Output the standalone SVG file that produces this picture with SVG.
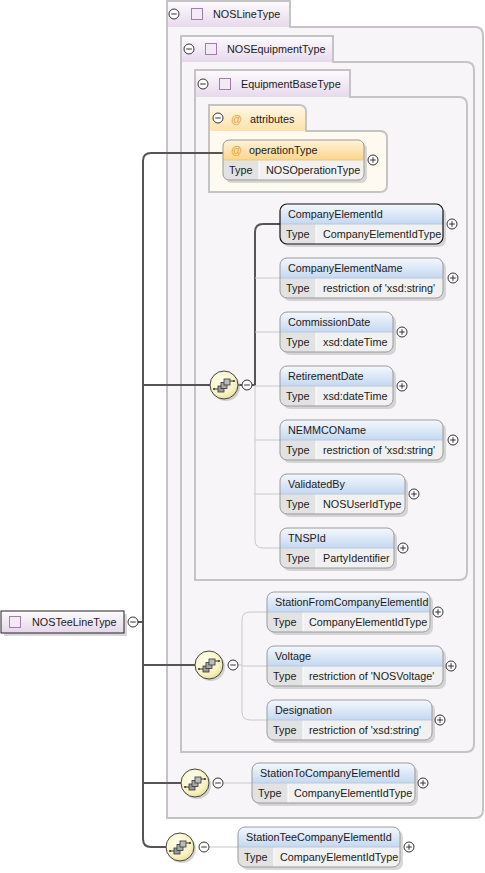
<svg xmlns="http://www.w3.org/2000/svg" xmlns:xlink="http://www.w3.org/1999/xlink" width="485" height="873" viewBox="0 0 485 873">
<style>
text{font-family:"Liberation Sans",Arial,sans-serif;font-size:10.8px;fill:#1a1a1a}
.cb{stroke:#c4c4c4;stroke-width:2;fill:#f8f5f9}
.ab{stroke:#c4c4c4;stroke-width:2;fill:#fffaf0}
.dark{stroke:#555;stroke-width:2;fill:none}
.light{stroke:#c8c8c8;stroke-width:1;fill:none}
.sh{fill:#b8b8b8;opacity:.55}
.out{fill:none;stroke:#9a9a9a;stroke-width:1}
.sel{fill:none;stroke:#111;stroke-width:1.2}
.tc{fill:#e2e2e2}
.vc{fill:#f1f1f1}
.hd{fill:url(#gHead)}
.sep{stroke:#fff;stroke-width:1}
.hsep{stroke:#b9c9dd;stroke-width:1}
.sq{fill:#f3eaf5;stroke:#a47ab4;stroke-width:1}
.at{fill:#e8a020}
</style>
<defs>
<linearGradient id="gTab" x1="0" y1="0" x2="0" y2="1"><stop offset="0" stop-color="#fcfafd"/><stop offset="1" stop-color="#e7d9ec"/></linearGradient>
<linearGradient id="gAttrTab" x1="0" y1="0" x2="0" y2="1"><stop offset="0" stop-color="#fff7e6"/><stop offset="1" stop-color="#fde2a8"/></linearGradient>
<linearGradient id="gHead" x1="0" y1="0" x2="0" y2="1"><stop offset="0" stop-color="#f5f8fd"/><stop offset="1" stop-color="#c4d8f1"/></linearGradient>
<linearGradient id="gOr" x1="0" y1="0" x2="0" y2="1"><stop offset="0" stop-color="#fff3da"/><stop offset="1" stop-color="#fbd68c"/></linearGradient>
<linearGradient id="gRoot" x1="0" y1="0" x2="0" y2="1"><stop offset="0" stop-color="#fdfbfd"/><stop offset="1" stop-color="#e5d6ea"/></linearGradient>
<radialGradient id="gSeq" cx="0.4" cy="0.35" r="0.7"><stop offset="0" stop-color="#fffff0"/><stop offset="0.7" stop-color="#f8f2c0"/><stop offset="1" stop-color="#e8dc98"/></radialGradient>
<g id="minus"><circle r="5" fill="#fff" stroke="#333" stroke-width="1"/><path d="M-2.8 0H2.8" stroke="#333" stroke-width="1"/></g>
<g id="plus"><circle r="5" fill="#fff" stroke="#333" stroke-width="1"/><path d="M-2.8 0H2.8M0 -2.8V2.8" stroke="#333" stroke-width="1"/></g>
<g id="seq">
<circle cx="2" cy="2" r="14" fill="#aaa" opacity=".5"/>
<circle r="14" fill="url(#gSeq)" stroke="#444" stroke-width="1"/>
<path d="M-10 4H-6M6 -4H10" stroke="#333" stroke-width="1"/>
<circle cx="-10" cy="4" r="1" fill="#333"/>
<circle cx="10" cy="-4" r="1" fill="#333"/>
<rect x="-6" y="1" width="6" height="6" fill="#999" stroke="#333" stroke-width=".8"/>
<rect x="-3" y="-2.5" width="6" height="6" fill="#aaa" stroke="#333" stroke-width=".8"/>
<rect x="0" y="-6" width="6" height="6" fill="#bbb" stroke="#333" stroke-width=".8"/>
</g>
</defs>

<!-- containers -->
<g id="NOSLineType">
<rect x="167" y="1" width="123" height="26" fill="url(#gTab)"/>
<path class="cb" d="M167 818V1H290V27H475Q483 27 483 35V810Q483 818 475 818Z"/>
<rect x="168" y="2" width="121" height="25" fill="url(#gTab)"/>
<use xlink:href="#minus" x="174" y="14"/>
<rect class="sq" x="191.5" y="8.5" width="11" height="11"/>
<text x="213" y="18">NOSLineType</text>
</g>
<g id="NOSEquipmentType">
<path class="cb" d="M181 752V36H333V62H466Q474 62 474 70V744Q474 752 466 752Z"/>
<rect x="182" y="37" width="150" height="25" fill="url(#gTab)"/>
<use xlink:href="#minus" x="189" y="49"/>
<rect class="sq" x="205.5" y="43.5" width="11" height="11"/>
<text x="227" y="53">NOSEquipmentType</text>
</g>
<g id="EquipmentBaseType">
<path class="cb" d="M195 580V70H350V97H459Q467 97 467 105V572Q467 580 459 580Z"/>
<rect x="196" y="71" width="153" height="26" fill="url(#gTab)"/>
<use xlink:href="#minus" x="203" y="84"/>
<rect class="sq" x="219.5" y="78.5" width="11" height="11"/>
<text x="241" y="88">EquipmentBaseType</text>
</g>
<g id="attributes">
<path class="ab" d="M209 192V105H299Q306 105 306 112V131H380Q387 131 387 138V185Q387 192 380 192Z"/>
<path d="M210 131V106H298Q305 106 305 113V131Z" fill="url(#gAttrTab)"/>
<use xlink:href="#minus" x="218" y="118"/>
<text class="at" x="231" y="123">@</text>
<text x="250" y="123">attributes</text>
</g>

<!-- connectors -->
<g id="connectors">
<path class="dark" d="M223 153H151Q143 153 143 161V839Q143 847 151 847H166"/>
<path class="dark" d="M143 385H210"/>
<path class="dark" d="M143 665H195"/>
<path class="dark" d="M143 783H181"/>
<path class="dark" d="M128 622H143"/>
<path class="dark" d="M238 385H242"/>
<path class="dark" d="M252 385H255V232Q255 224 263 224H280"/>
<path class="light" d="M255 385V540Q255 548 263 548H280M255 278H280M255 332H280M255 386H280M255 440H280M255 494H280"/>
<path class="light" d="M238 665H242V620Q242 612 250 612H267M242 665V712Q242 720 250 720H267M242 666H267"/>
<path class="light" d="M223 783H252"/>
<path class="light" d="M209 847H238"/>
</g>

<!-- root -->
<g id="NOSTeeLineType">
<rect x="4" y="614" width="123" height="22" class="sh"/>
<rect x="1" y="611" width="123" height="22" fill="url(#gRoot)" stroke="#222" stroke-width="1"/>
<rect class="sq" x="9.5" y="616.5" width="11" height="11"/>
<text x="32" y="626">NOSTeeLineType</text>
<use xlink:href="#minus" x="133" y="622"/>
</g>

<!-- sequences -->
<g id="seq1"><use xlink:href="#seq" x="224" y="385"/><use xlink:href="#minus" x="247" y="385"/></g>
<g id="seq2"><use xlink:href="#seq" x="209" y="665"/><use xlink:href="#minus" x="233" y="665"/></g>
<g id="seq3"><use xlink:href="#seq" x="195" y="783"/><use xlink:href="#minus" x="218" y="783"/></g>
<g id="seq4"><use xlink:href="#seq" x="180" y="847"/><use xlink:href="#minus" x="204" y="847"/></g>

<!-- attribute operationType -->
<g id="operationType">
<rect class="sh" x="226" y="143" width="141" height="40" rx="6"/>
<rect x="223" y="140" width="141" height="40" rx="6" fill="#f1f1f1"/>
<path d="M223 160V146Q223 140 229 140H358Q364 140 364 146V160Z" fill="url(#gOr)"/>
<path class="tc" d="M223 160H259V180H229Q223 180 223 174Z"/>
<path class="sep" d="M259 160.5V180"/>
<path d="M223 160H364" stroke="#e6c890" stroke-width="1"/>
<rect class="out" x="223" y="140" width="141" height="40" rx="6"/>
<text class="at" x="231" y="154">@</text>
<text x="249" y="154">operationType</text>
<text x="229" y="174">Type</text>
<text x="266" y="174">NOSOperationType</text>
<use xlink:href="#plus" x="373" y="160"/>
</g>

<!-- elements -->
<g id="CompanyElementId">
<rect class="sh" x="283" y="207" width="163" height="40" rx="7"/>
<rect class="vc" x="280" y="204" width="163" height="40" rx="7"/>
<path class="hd" d="M280 224V211Q280 204 287 204H436Q443 204 443 211V224Z"/>
<path class="tc" d="M280 224H316V244H287Q280 244 280 237Z"/>
<path class="sep" d="M316 224.5V244"/>
<path class="hsep" d="M280 224H443"/>
<rect class="sel" x="280" y="204" width="163" height="40" rx="7"/>
<text x="288" y="218">CompanyElementId</text>
<text x="286" y="238">Type</text>
<text x="323" y="238">CompanyElementIdType</text>
<use xlink:href="#plus" x="452" y="224"/>
</g>
<g id="CompanyElementName">
<rect class="sh" x="283" y="261" width="163" height="40" rx="7"/>
<rect class="vc" x="280" y="258" width="163" height="40" rx="7"/>
<path class="hd" d="M280 278V265Q280 258 287 258H436Q443 258 443 265V278Z"/>
<path class="tc" d="M280 278H316V298H287Q280 298 280 291Z"/>
<path class="sep" d="M316 278.5V298"/>
<path class="hsep" d="M280 278H443"/>
<rect class="out" x="280" y="258" width="163" height="40" rx="7"/>
<text x="288" y="272">CompanyElementName</text>
<text x="286" y="292">Type</text>
<text x="323" y="292">restriction of 'xsd:string'</text>
<use xlink:href="#plus" x="453" y="278"/>
</g>
<g id="CommissionDate">
<rect class="sh" x="283" y="315" width="113" height="40" rx="7"/>
<rect class="vc" x="280" y="312" width="113" height="40" rx="7"/>
<path class="hd" d="M280 332V319Q280 312 287 312H386Q393 312 393 319V332Z"/>
<path class="tc" d="M280 332H316V352H287Q280 352 280 345Z"/>
<path class="sep" d="M316 332.5V352"/>
<path class="hsep" d="M280 332H393"/>
<rect class="out" x="280" y="312" width="113" height="40" rx="7"/>
<text x="288" y="326">CommissionDate</text>
<text x="286" y="346">Type</text>
<text x="323" y="346">xsd:dateTime</text>
<use xlink:href="#plus" x="402" y="332"/>
</g>
<g id="RetirementDate">
<rect class="sh" x="283" y="369" width="113" height="40" rx="7"/>
<rect class="vc" x="280" y="366" width="113" height="40" rx="7"/>
<path class="hd" d="M280 386V373Q280 366 287 366H386Q393 366 393 373V386Z"/>
<path class="tc" d="M280 386H316V406H287Q280 406 280 399Z"/>
<path class="sep" d="M316 386.5V406"/>
<path class="hsep" d="M280 386H393"/>
<rect class="out" x="280" y="366" width="113" height="40" rx="7"/>
<text x="288" y="380">RetirementDate</text>
<text x="286" y="400">Type</text>
<text x="323" y="400">xsd:dateTime</text>
<use xlink:href="#plus" x="402" y="386"/>
</g>
<g id="NEMMCOName">
<rect class="sh" x="283" y="423" width="163" height="40" rx="7"/>
<rect class="vc" x="280" y="420" width="163" height="40" rx="7"/>
<path class="hd" d="M280 440V427Q280 420 287 420H436Q443 420 443 427V440Z"/>
<path class="tc" d="M280 440H316V460H287Q280 460 280 453Z"/>
<path class="sep" d="M316 440.5V460"/>
<path class="hsep" d="M280 440H443"/>
<rect class="out" x="280" y="420" width="163" height="40" rx="7"/>
<text x="288" y="434">NEMMCOName</text>
<text x="286" y="454">Type</text>
<text x="323" y="454">restriction of 'xsd:string'</text>
<use xlink:href="#plus" x="453" y="440"/>
</g>
<g id="ValidatedBy">
<rect class="sh" x="283" y="477" width="125" height="40" rx="7"/>
<rect class="vc" x="280" y="474" width="125" height="40" rx="7"/>
<path class="hd" d="M280 494V481Q280 474 287 474H398Q405 474 405 481V494Z"/>
<path class="tc" d="M280 494H316V514H287Q280 514 280 507Z"/>
<path class="sep" d="M316 494.5V514"/>
<path class="hsep" d="M280 494H405"/>
<rect class="out" x="280" y="474" width="125" height="40" rx="7"/>
<text x="288" y="488">ValidatedBy</text>
<text x="286" y="508">Type</text>
<text x="323" y="508">NOSUserIdType</text>
<use xlink:href="#plus" x="414" y="494"/>
</g>
<g id="TNSPId">
<rect class="sh" x="283" y="531" width="114" height="40" rx="7"/>
<rect class="vc" x="280" y="528" width="114" height="40" rx="7"/>
<path class="hd" d="M280 548V535Q280 528 287 528H387Q394 528 394 535V548Z"/>
<path class="tc" d="M280 548H316V568H287Q280 568 280 561Z"/>
<path class="sep" d="M316 548.5V568"/>
<path class="hsep" d="M280 548H394"/>
<rect class="out" x="280" y="528" width="114" height="40" rx="7"/>
<text x="288" y="542">TNSPId</text>
<text x="286" y="562">Type</text>
<text x="323" y="562">PartyIdentifier</text>
<use xlink:href="#plus" x="403" y="548"/>
</g>
<g id="StationFromCompanyElementId">
<rect class="sh" x="270" y="595" width="163" height="40" rx="7"/>
<rect class="vc" x="267" y="592" width="163" height="40" rx="7"/>
<path class="hd" d="M267 612V599Q267 592 274 592H423Q430 592 430 599V612Z"/>
<path class="tc" d="M267 612H303V632H274Q267 632 267 625Z"/>
<path class="sep" d="M303 612.5V632"/>
<path class="hsep" d="M267 612H430"/>
<rect class="out" x="267" y="592" width="163" height="40" rx="7"/>
<text x="275" y="606">StationFromCompanyElementId</text>
<text x="273" y="626">Type</text>
<text x="309" y="626">CompanyElementIdType</text>
<use xlink:href="#plus" x="438" y="612"/>
</g>
<g id="Voltage">
<rect class="sh" x="270" y="649" width="176" height="40" rx="7"/>
<rect class="vc" x="267" y="646" width="176" height="40" rx="7"/>
<path class="hd" d="M267 666V653Q267 646 274 646H436Q443 646 443 653V666Z"/>
<path class="tc" d="M267 666H303V686H274Q267 686 267 679Z"/>
<path class="sep" d="M303 666.5V686"/>
<path class="hsep" d="M267 666H443"/>
<rect class="out" x="267" y="646" width="176" height="40" rx="7"/>
<text x="275" y="660">Voltage</text>
<text x="273" y="680">Type</text>
<text x="309" y="680">restriction of 'NOSVoltage'</text>
<use xlink:href="#plus" x="451" y="666"/>
</g>
<g id="Designation">
<rect class="sh" x="270" y="703" width="165" height="40" rx="7"/>
<rect class="vc" x="267" y="700" width="165" height="40" rx="7"/>
<path class="hd" d="M267 720V707Q267 700 274 700H425Q432 700 432 707V720Z"/>
<path class="tc" d="M267 720H303V740H274Q267 740 267 733Z"/>
<path class="sep" d="M303 720.5V740"/>
<path class="hsep" d="M267 720H432"/>
<rect class="out" x="267" y="700" width="165" height="40" rx="7"/>
<text x="275" y="714">Designation</text>
<text x="273" y="734">Type</text>
<text x="309" y="734">restriction of 'xsd:string'</text>
<use xlink:href="#plus" x="440" y="720"/>
</g>
<g id="StationToCompanyElementId">
<rect class="sh" x="255" y="766" width="163" height="40" rx="7"/>
<rect class="vc" x="252" y="763" width="163" height="40" rx="7"/>
<path class="hd" d="M252 783V770Q252 763 259 763H408Q415 763 415 770V783Z"/>
<path class="tc" d="M252 783H288V803H259Q252 803 252 796Z"/>
<path class="sep" d="M288 783.5V803"/>
<path class="hsep" d="M252 783H415"/>
<rect class="out" x="252" y="763" width="163" height="40" rx="7"/>
<text x="260" y="777">StationToCompanyElementId</text>
<text x="258" y="797">Type</text>
<text x="294" y="797">CompanyElementIdType</text>
<use xlink:href="#plus" x="423" y="783"/>
</g>
<g id="StationTeeCompanyElementId">
<rect class="sh" x="241" y="830" width="162" height="40" rx="7"/>
<rect class="vc" x="238" y="827" width="162" height="40" rx="7"/>
<path class="hd" d="M238 847V834Q238 827 245 827H393Q400 827 400 834V847Z"/>
<path class="tc" d="M238 847H274V867H245Q238 867 238 860Z"/>
<path class="sep" d="M274 847.5V867"/>
<path class="hsep" d="M238 847H400"/>
<rect class="out" x="238" y="827" width="162" height="40" rx="7"/>
<text x="246" y="841">StationTeeCompanyElementId</text>
<text x="244" y="861">Type</text>
<text x="280" y="861">CompanyElementIdType</text>
<use xlink:href="#plus" x="409" y="847"/>
</g>
</svg>
